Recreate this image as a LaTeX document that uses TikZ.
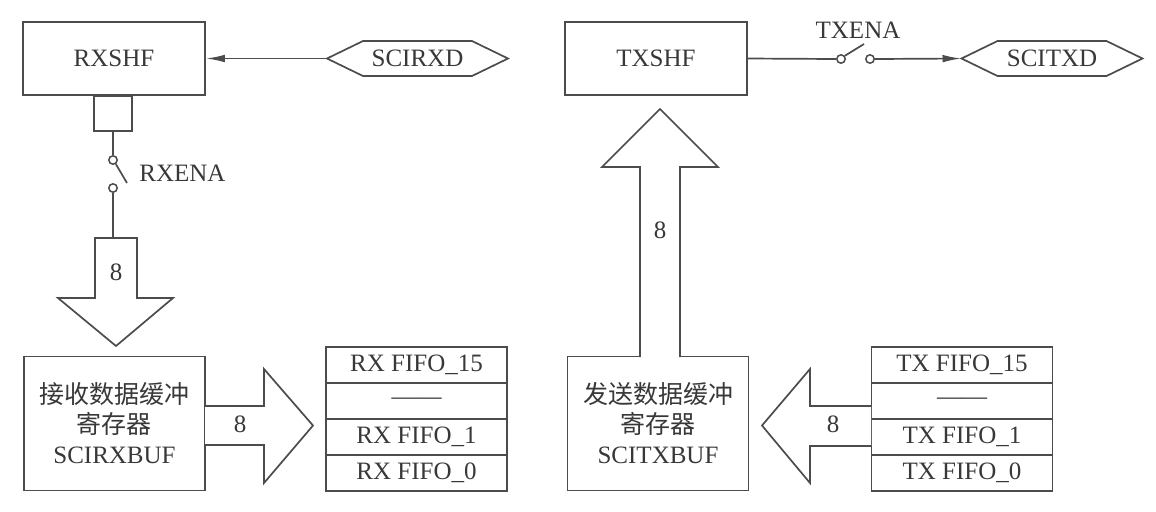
\documentclass[tikz,border=0pt]{standalone}
\usepackage{fontspec}
\setmainfont{Liberation Serif}
\newfontfamily\cjk{Noto Sans CJK SC}
\usetikzlibrary{arrows.meta, positioning, calc}
\definecolor{LineGray}{gray}{0.3}
\definecolor{TextGray}{gray}{0.22}

\begin{document}
\begin{tikzpicture}[
    x=0.5pt, y=-0.5pt,
    font=\fontsize{12.5}{15}\selectfont,
    wire/.style={draw=LineGray, line width=0.85pt},
    flow/.style={wire, -{Latex[length=9.5pt, width=3.8pt]}},
    reg/.style={draw=LineGray, line width=0.85pt, text=TextGray, inner sep=0pt,
        minimum width=91pt, minimum height=36.5pt},
    buf/.style={reg, align=center, minimum width=90.5pt, minimum height=67pt},
    cell/.style={draw=LineGray, line width=0.85pt, text=TextGray, inner sep=0pt,
        minimum width=90.5pt, minimum height=18pt},
    bus/.style={draw=LineGray, line width=0.85pt, fill=white, line join=miter},
    contact/.style={circle, draw=LineGray, line width=0.75pt, fill=white,
        inner sep=0pt, minimum size=4.2pt},
    lbl/.style={text=TextGray, inner sep=1pt},
]
\useasboundingbox (0,0) rectangle (1156,511);

% --- registros de desplazamiento ---
\node[reg] (rxshf) at (114,58.5) {RXSHF};
\node[reg] (txshf) at (656,58.5) {TXSHF};

% --- patillas SCIRXD / SCITXD ---
\foreach \n/\cx/\t in {rxd/417.5/SCIRXD, txd/1052/SCITXD}{
    \node[lbl] (\n) at (\cx,58.5) {\t};
    \coordinate (\n-w) at ({\cx-90.5},58.5);
    \draw[wire, line join=miter] (\n-w) -- ({\cx-54.5},41) -- ({\cx+54.5},41)
        -- ({\cx+90.5},58.5) -- ({\cx+54.5},76) -- ({\cx-54.5},76) -- cycle;
}
\draw[flow] (rxd-w) -- (rxshf.east);

% --- interruptor RXENA ---
\node[reg, minimum width=19pt, minimum height=17.5pt, anchor=north] (rxtap) at (113,95) {};
\node[contact] (rs1) at (113,160) {};
\node[contact] (rs2) at (113,188) {};
\coordinate (rsarm) at (127,183);
\coordinate (rxbus) at (113,238);
\draw[wire] (rxtap.south) -- (rs1.north);
\draw[wire] (rs1.-55) -- (rsarm);
\draw[wire] (rs2.south) -- (rxbus);
\node[lbl, anchor=west] (rxena) at (137,173) {RXENA};

% --- interruptor TXENA ---
\node[contact] (ts1) at (841,59) {};
\node[contact] (ts2) at (870,59) {};
\coordinate (tsarm) at (864,44);
\draw[wire] (txshf.east) -- (ts1.west);
\draw[wire] (ts1.40) -- (tsarm);
\draw[flow] (ts2.east) -- (txd-w);
\node[lbl] (txena) at (858,30) {TXENA};

% --- buffers ---
\node[buf] (rxbuf) at (114.5,423.5) {{\cjk 接收数据缓冲}\\{\cjk 寄存器}\\SCIRXBUF};
\node[buf] (txbuf) at (658,423.5) {{\cjk 发送数据缓冲}\\{\cjk 寄存器}\\SCITXBUF};

% --- FIFOs ---
\foreach \i/\t in {0/RX FIFO\_15, 1/——, 2/RX FIFO\_1, 3/RX FIFO\_0}
    \node[cell] (rxf\i) at (416.5,{365+36*\i}) {\t};
\foreach \i/\t in {0/TX FIFO\_15, 1/——, 2/TX FIFO\_1, 3/TX FIFO\_0}
    \node[cell] (txf\i) at (962,{365+36*\i}) {\t};

% --- buses de 8 bits ---
\draw[bus] (95,238) -- (95,298) -- (58,298) -- (116,346) -- (173,298)
    -- (137,298) -- (137,238) -- cycle;
\draw[bus] (640,357) -- (640,167) -- (602,167) -- (660,109) -- (718,167)
    -- (680,167) -- (680,357);
\draw[bus] (205,406) -- (264,406) -- (264,369) -- (313,425.5) -- (264,483)
    -- (264,445) -- (205,445);
\draw[bus] (871,406) -- (810,406) -- (810,369) -- (762,425.5) -- (810,483)
    -- (810,446) -- (871,446);
\node[lbl] (rxw) at (116,272) {8};
\node[lbl] (txw) at (660,230) {8};
\node[lbl] (rxfw) at (240,424) {8};
\node[lbl] (txfw) at (833,424) {8};

\end{tikzpicture}
\end{document}
